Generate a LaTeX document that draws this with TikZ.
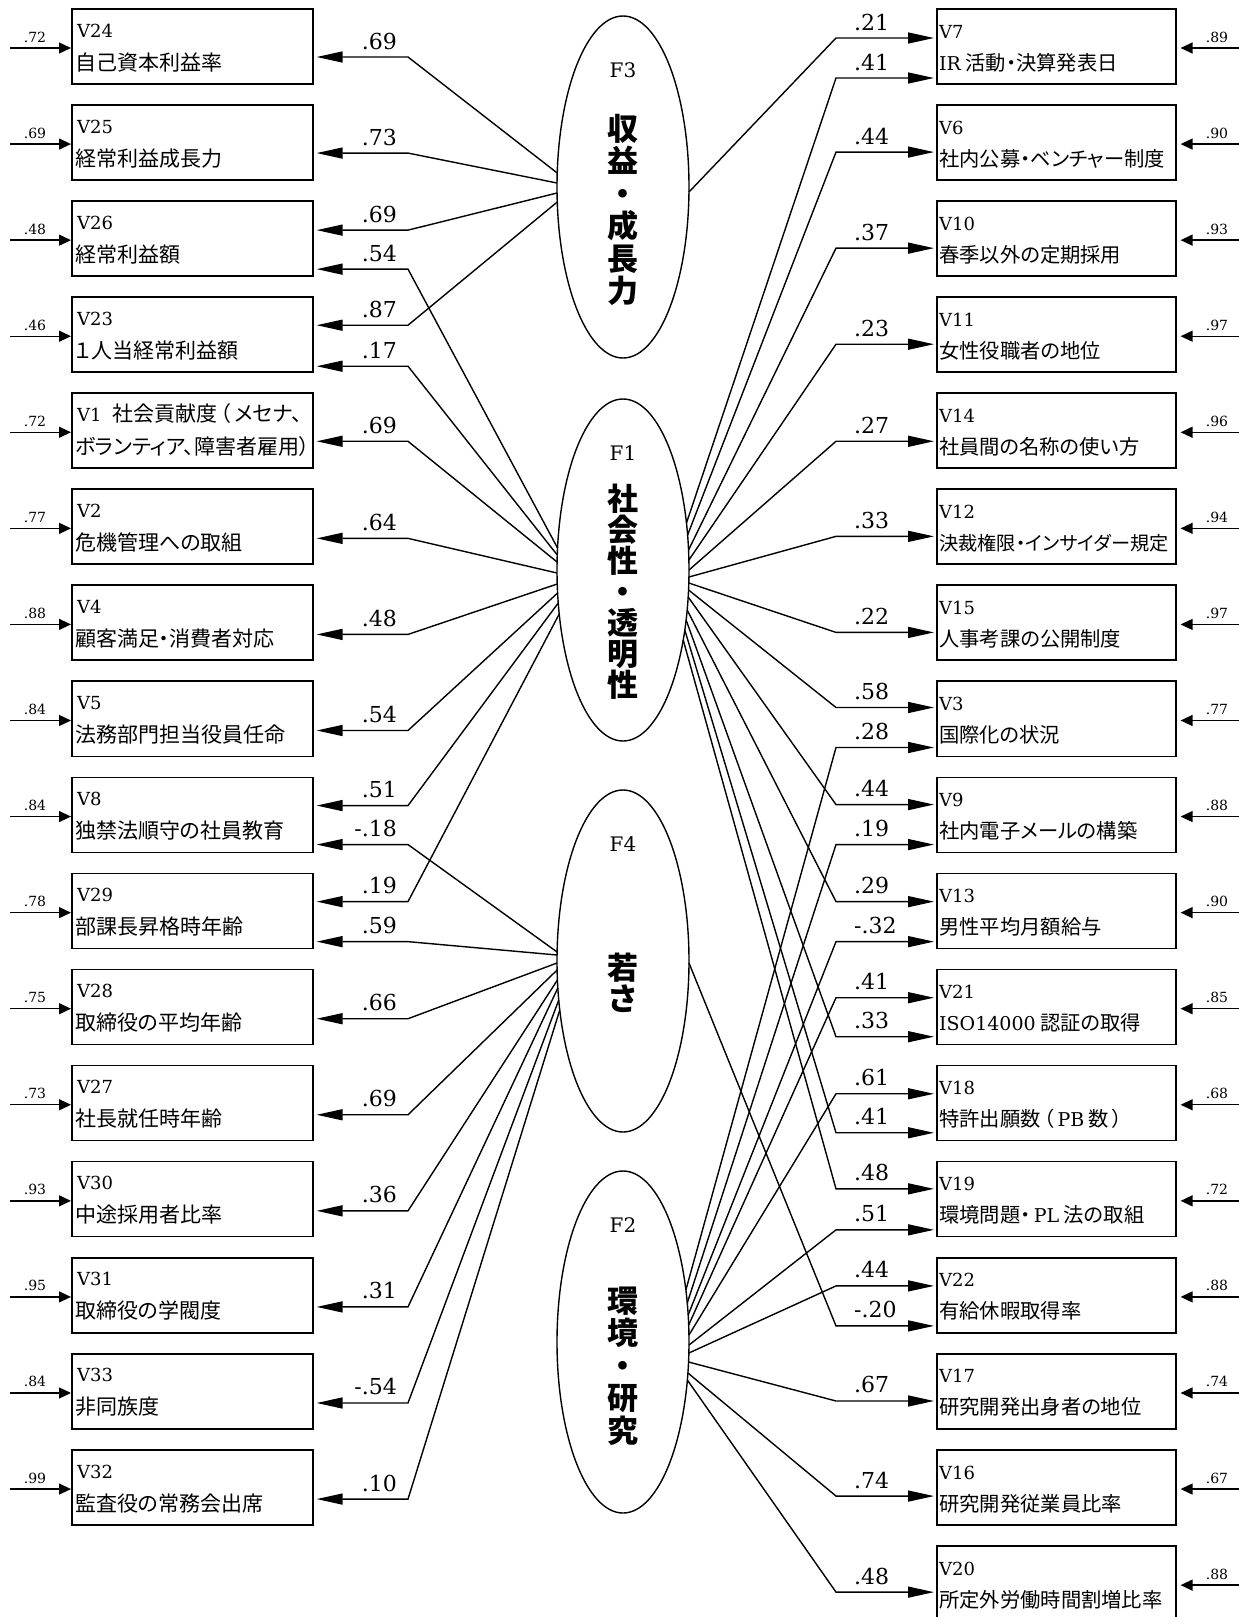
\documentclass[tikz,border=0pt]{standalone}
\usepackage{fontspec}
\setmainfont{DejaVu Serif}
\newfontfamily\jp{Noto Sans CJK JP}[RawFeature=+palt]
\usetikzlibrary{shapes.geometric,arrows.meta,calc}
\newcounter{lc}
\tikzset{
  box/.style={draw, line width=1.6pt, minimum width=241pt, minimum height=75pt, inner sep=0pt, anchor=north west},
  rbox/.style={draw, line width=1.6pt, minimum width=239pt, minimum height=75pt, inner sep=0pt, anchor=north west},
  fac/.style={draw, ellipse, line width=1.4pt, minimum width=132pt, minimum height=342pt, inner sep=0pt},
  load/.style={line width=1.4pt, -{Triangle[length=26pt,width=11pt]}},
  err/.style={line width=1.3pt, -{Triangle[length=12pt,width=11pt]}},
  coef/.style={font=\fontsize{22}{26}\selectfont, inner sep=0pt},
  elab/.style={font=\fontsize{14}{17}\selectfont, inner sep=0pt},
  vlab/.style={font=\fontsize{18}{22}\selectfont, inner sep=0pt, anchor=base west},
  jlab/.style={font=\fontsize{21}{25}\jp, inner sep=0pt, anchor=base west},
  rjlab/.style={font=\fontsize{20.3}{24}\jp, inner sep=0pt, anchor=base west},
  flab/.style={font=\fontsize{20}{24}\selectfont, inner sep=0pt, anchor=base},
  stack/.style={font=\fontsize{31}{#1}\jp\bfseries, align=center, inner sep=0pt},
}
\newcommand\lat[1]{{\rmfamily\fontsize{19}{23}\selectfont #1}}
\newcommand\LBox[4]{%
  \node[box] (#1) at (71,{8+#2*96.07}) {};
  \node[vlab] (#1v) at ($(#1.north west)+(6,29)$) {#1};
  \node[jlab] (#1t) at ($(#1.north west)+(4,62)$) {#3};
  \coordinate (#1s) at ($(#1.north west)+(-61,40)$);
  \draw[err] (#1s) -- (#1s -| #1.west);
  \node[elab, anchor=base] (#1r) at ($(#1s)+(25,-6)$) {#4};
}
\newcommand\RBox[4]{%
  \node[rbox] (#1) at (936,{8+#2*96.07}) {};
  \node[vlab] (#1v) at ($(#1.north west)+(3,30)$) {#1};
  \node[rjlab] (#1t) at ($(#1.north west)+(3,62)$) {#3};
  \coordinate (#1s) at (1240,{8+#2*96.07+40});
  \draw[err] (#1s) -- ($(#1s -| #1.east)+(4,0)$);
  \node[elab, anchor=base] (#1r) at ($(#1s)+(-23,-6)$) {#4};
}
\newcommand\LL[5]{%
  \coordinate (t) at ($(#3.north east)+(3,#4)$);
  \draw[load] ($(#1.center)+({-66*sqrt(1-((#2)/171)^2)},#2)$) -- (t -| LB) -- (t);
  \stepcounter{lc}%
  \node[coef, anchor=base east] (c\arabic{lc}) at ($(t -| LB)+(-11,-8)$) {#5};
}
\newcommand\RL[5]{%
  \coordinate (t) at ($(#3.north west)+(-2,#4)$);
  \draw[load] ($(#1.center)+({66*sqrt(1-((#2)/171)^2)},#2)$) -- (t -| RB) -- (t);
  \stepcounter{lc}%
  \node[coef, anchor=base west] (c\arabic{lc}) at ($(t -| RB)+(18,-8)$) {#5};
}
\begin{document}
\begin{tikzpicture}[x=1pt,y=-1pt]
\useasboundingbox (0,0) rectangle (1239,1617);
\coordinate (LB) at (408,0);
\coordinate (RB) at (836,0);

% factors
\node[fac] (F3) at (623,187) {};
\node[fac] (F1) at (623,570) {};
\node[fac] (F4) at (623,961) {};
\node[fac] (F2) at (623,1342) {};
\node[flab] (F3n) at ($(F3.center)+(0,-110)$) {F3};
\node[flab] (F1n) at ($(F1.center)+(0,-110)$) {F1};
\node[flab] (F4n) at ($(F4.center)+(0,-110)$) {F4};
\node[flab] (F2n) at ($(F2.center)+(0,-110)$) {F2};
\node[stack=32.5] (F3t) at ($(F3.center)+(0,23)$) {収\\益\\・\\成\\長\\力};
\node[stack=31] (F1t) at ($(F1.center)+(0,22)$) {社\\会\\性\\・\\透\\明\\性};
\node[stack=31] (F4t) at ($(F4.center)+(0,22)$) {若\\さ};
\node[stack=32.5] (F2t) at ($(F2.center)+(0,24)$) {環\\境\\・\\研\\究};

% left boxes
\LBox{V24}{0}{自己資本利益率}{.72}
\LBox{V25}{1}{経常利益成長力}{.69}
\LBox{V26}{2}{経常利益額}{.48}
\LBox{V23}{3}{１人当経常利益額}{.46}
\LBox{V1}{4}{ボランティア、障害者雇用）}{.72}
\node[jlab] (V1u) at ($(V1v.base east)+(10,0)$) {社会貢献度\,（\,メセナ、};
\LBox{V2}{5}{危機管理への取組}{.77}
\LBox{V4}{6}{顧客満足・消費者対応}{.88}
\LBox{V5}{7}{法務部門担当役員任命}{.84}
\LBox{V8}{8}{独禁法順守の社員教育}{.84}
\LBox{V29}{9}{部課長昇格時年齢}{.78}
\LBox{V28}{10}{取締役の平均年齢}{.75}
\LBox{V27}{11}{社長就任時年齢}{.73}
\LBox{V30}{12}{中途採用者比率}{.93}
\LBox{V31}{13}{取締役の学閥度}{.95}
\LBox{V33}{14}{非同族度}{.84}
\LBox{V32}{15}{監査役の常務会出席}{.99}

% right boxes
\RBox{V7}{0}{\lat{IR} 活動・決算発表日}{.89}
\RBox{V6}{1}{社内公募・ベンチャー制度}{.90}
\RBox{V10}{2}{春季以外の定期採用}{.93}
\RBox{V11}{3}{女性役職者の地位}{.97}
\RBox{V14}{4}{社員間の名称の使い方}{.96}
\RBox{V12}{5}{\fontsize{19.2}{23}\selectfont 決裁権限・インサイダー規定}{.94}
\RBox{V15}{6}{人事考課の公開制度}{.97}
\RBox{V3}{7}{国際化の状況}{.77}
\RBox{V9}{8}{社内電子メールの構築}{.88}
\RBox{V13}{9}{男性平均月額給与}{.90}
\RBox{V21}{10}{\lat{ISO14000} 認証の取得}{.85}
\RBox{V18}{11}{特許出願数\,（\,\lat{PB} 数\,）}{.68}
\RBox{V19}{12}{環境問題・\,\lat{PL} 法の取組}{.72}
\RBox{V22}{13}{有給休暇取得率}{.88}
\RBox{V17}{14}{研究開発出身者の地位}{.74}
\RBox{V16}{15}{研究開発従業員比率}{.67}
\RBox{V20}{16}{所定外労働時間割増比率}{.88}

% left loadings
\LL{F3}{-14}{V24}{49}{.69}
\LL{F3}{-4}{V25}{49}{.73}
\LL{F3}{6}{V26}{30}{.69}
\LL{F1}{-22}{V26}{69}{.54}
\LL{F3}{15}{V23}{29}{.87}
\LL{F1}{-15}{V23}{70}{.17}
\LL{F1}{-8}{V1}{49}{.69}
\LL{F1}{3}{V2}{50}{.64}
\LL{F1}{14}{V4}{50}{.48}
\LL{F1}{23}{V5}{50}{.54}
\LL{F1}{33}{V8}{29}{.51}
\LL{F4}{-9}{V8}{68}{-.18}
\LL{F1}{44}{V29}{29}{.19}
\LL{F4}{-6}{V29}{69}{.59}
\LL{F4}{2}{V28}{50}{.66}
\LL{F4}{9}{V27}{50}{.69}
\LL{F4}{19}{V30}{50}{.36}
\LL{F4}{27}{V31}{50}{.31}
\LL{F4}{39}{V33}{50}{-.54}
\LL{F4}{49}{V32}{50}{.10}

% right loadings
\RL{F3}{5}{V7}{30}{.21}
\RL{F1}{-47}{V7}{70}{.41}
\RL{F1}{-35}{V6}{48}{.44}
\RL{F1}{-20}{V10}{48}{.37}
\RL{F1}{-10}{V11}{48}{.23}
\RL{F1}{0}{V14}{49}{.27}
\RL{F1}{7}{V12}{48}{.33}
\RL{F1}{13}{V15}{48}{.22}
\RL{F1}{20}{V3}{27}{.58}
\RL{F2}{-52}{V3}{67}{.28}
\RL{F1}{27}{V9}{28}{.44}
\RL{F2}{-39}{V9}{68}{.19}
\RL{F1}{40}{V13}{29}{.29}
\RL{F2}{-27}{V13}{69}{-.32}
\RL{F2}{-17}{V21}{29}{.41}
\RL{F1}{50}{V21}{68}{.33}
\RL{F2}{-7}{V18}{29}{.61}
\RL{F1}{60}{V18}{68}{.41}
\RL{F1}{70}{V19}{28}{.48}
\RL{F2}{3}{V19}{69}{.51}
\RL{F2}{11}{V22}{29}{.44}
\RL{F4}{2}{V22}{69}{-.20}
\RL{F2}{20}{V17}{48}{.67}
\RL{F2}{31}{V16}{47}{.74}
\RL{F2}{38}{V20}{47}{.48}
\end{tikzpicture}
\end{document}
